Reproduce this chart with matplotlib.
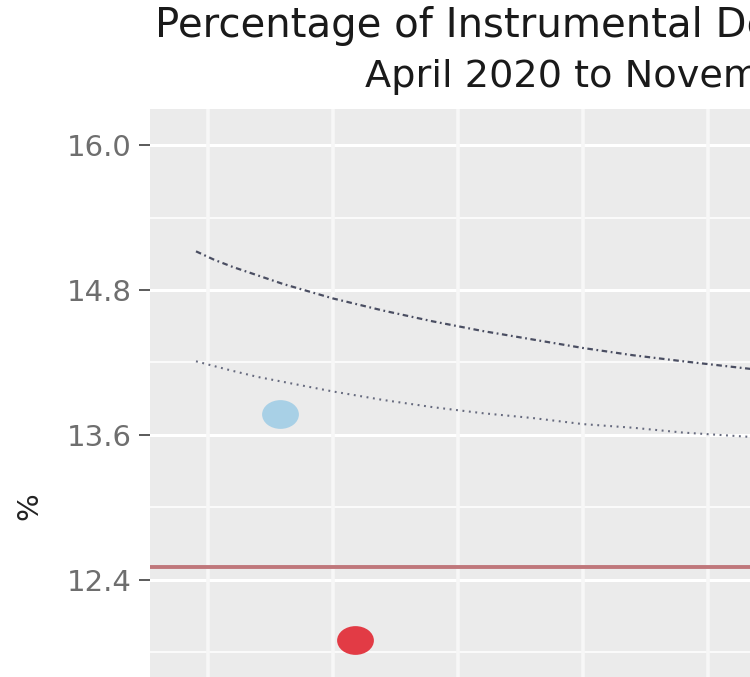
import numpy as np
import matplotlib
matplotlib.use("Agg")
import matplotlib.pyplot as plt
from matplotlib.path import Path
from matplotlib.transforms import Affine2D

# Funnel plot data: births per unit vs instrumental delivery rate (%)
births = [1788, 2088]
rates = [13.77, 11.90]
point_colors = ["#a8d0e6", "#e23b45"]

mean_rate = 12.51

# Control limits read along the number of births
limit_n = [1452, 1525, 1600, 1700, 1800, 1900, 2000, 2200, 2400, 2600,
           2800, 3000, 3200, 3400, 3700]
upper_998 = [15.12, 15.05, 14.99, 14.92, 14.85, 14.79, 14.73, 14.63, 14.54,
             14.46, 14.39, 14.32, 14.26, 14.21, 14.14]
upper_95 = [14.21, 14.17, 14.13, 14.08, 14.04, 14.00, 13.96, 13.89, 13.83,
            13.78, 13.74, 13.69, 13.66, 13.62, 13.58]

y_ticks = [12.4, 13.6, 14.8, 16.0]
y_minor = [11.8, 13.0, 14.2, 15.4]
x_breaks = [1500, 2000, 2500, 3000, 3500]

title = "Percentage of Instrumental Deliveries"
subtitle = "April 2020 to November 2021"

fig = plt.figure(figsize=(7.5, 6.77), dpi=100)
ax = fig.add_axes([0.2, 0.0, 0.8, 1 - 109 / 677])
ax.set_facecolor("#ebebeb")
for s in ax.spines.values():
    s.set_visible(False)

ax.set_xlim(1268, 3668)
ax.set_ylim(11.597, 16.298)

# grid
for y in y_ticks:
    ax.axhline(y, color="white", lw=2.2, zorder=1)
for y in y_minor:
    ax.axhline(y, color="white", lw=1.1, zorder=1)
for x in x_breaks:
    ax.axvline(x, color="#f7f7f7", lw=2.6, zorder=1)

ax.set_yticks(y_ticks)
ax.set_yticklabels([f"{v:.1f}" for v in y_ticks])
ax.tick_params(axis="y", length=8, width=1.4, color="#5a5a5a",
               labelcolor="#6e6e6e", labelsize=21, pad=5)
ax.tick_params(axis="x", length=0, labelbottom=False)

# mean and control limits
ax.axhline(mean_rate, color="#bf777b", lw=2.8, zorder=3)
ax.plot(limit_n, upper_998, color="#4a4e62", lw=1.6,
        linestyle=(0, (2.5, 1.6, 0.8, 1.6)), zorder=3)
ax.plot(limit_n, upper_95, color="#666a7e", lw=1.5,
        linestyle=(0, (0.9, 2.2)), zorder=3)

# slightly wide circles
oval = Path.unit_circle().transformed(Affine2D().scale(1.28, 1.0))
for n, r, c in zip(births, rates, point_colors):
    ax.plot(n, r, marker=oval, markersize=26.5, color=c,
            markeredgewidth=0, linestyle="none", zorder=4)

fig.text(155 / 750, 1 - 37 / 677, title, fontsize=29, color="#1a1a1a",
         ha="left", va="baseline")
fig.text(365 / 750, 1 - 87 / 677, subtitle, fontsize=27.5, color="#1a1a1a",
         ha="left", va="baseline")
fig.text(29 / 750, 1 - 506 / 677, "%", fontsize=21, color="#222222",
         rotation=90, ha="center", va="center")

fig.savefig("out.png", dpi=100)
